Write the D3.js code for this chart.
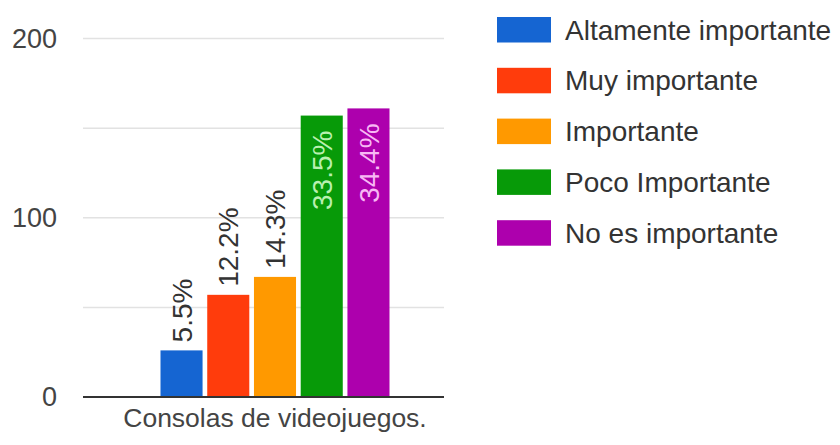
<!DOCTYPE html>
<html>
<head>
<meta charset="utf-8">
<script src="https://cdn.jsdelivr.net/npm/d3@7/dist/d3.min.js"></script>
<style>
  html, body { margin: 0; padding: 0; background: #fff; }
  svg { display: block; font-family: "Liberation Sans", Arial, sans-serif; }
</style>
</head>
<body>
<svg id="chart" width="840" height="445"></svg>
<script>
// Survey responses for one question, split by importance level
const categories = ["Consolas de videojuegos."];
const seriesNames = ["Altamente importante", "Muy importante", "Importante", "Poco Importante", "No es importante"];
const seriesValues = [26, 57, 67, 157, 161];
const percentLabels = ["5.5%", "12.2%", "14.3%", "33.5%", "34.4%"];
const seriesColors = ["#1565d2", "#ff3c0c", "#ff9900", "#079a08", "#ad00ad"];
const insideLabelColors = ["#ffffff", "#ffffff", "#ffffff", "#b9f0b0", "#f8b8f4"];
const gridValues = [0, 50, 100, 150, 200];
const tickLabels = ["0", "100", "200"];

const svg = d3.select("#chart");

const plot = { left: 83, right: 444, top: 38.5, bottom: 397 };

const y = d3.scaleLinear().domain([0, 200]).range([plot.bottom, plot.top]);

const x0 = d3.scaleBand().domain(categories).range([106, 444]).paddingInner(0).paddingOuter(0.238);
const x1 = d3.scaleBand().domain(seriesNames).range([0, x0.bandwidth()]).paddingInner(0.1);

// Gridlines
svg.append("g")
  .selectAll("line")
  .data(gridValues.filter(v => v !== 0))
  .join("line")
  .attr("x1", plot.left).attr("x2", plot.right)
  .attr("y1", d => y(d)).attr("y2", d => y(d))
  .attr("stroke", "#e2e2e2").attr("stroke-width", 1.5);

// Y axis labels
const yAxis = d3.axisLeft(y)
  .tickValues(tickLabels.map(Number))
  .tickFormat((d, i) => tickLabels[i])
  .tickSize(0).tickPadding(0);
const yg = svg.append("g").attr("transform", "translate(57,0)").call(yAxis);
yg.select(".domain").remove();
yg.selectAll("text").attr("font-size", 27).attr("fill", "#444")
  .attr("font-family", "'Liberation Sans', Arial, sans-serif");

// Bars
const group = svg.append("g")
  .selectAll("g")
  .data(categories)
  .join("g")
  .attr("transform", d => `translate(${x0(d)},0)`);

const bars = seriesNames.map((name, i) => ({ name, value: seriesValues[i], label: percentLabels[i], i }));

group.selectAll("rect")
  .data(bars)
  .join("rect")
  .attr("x", d => x1(d.name))
  .attr("width", x1.bandwidth())
  .attr("y", d => y(d.value))
  .attr("height", d => y(0) - y(d.value))
  .attr("fill", d => seriesColors[d.i]);

// Value labels: outside above short bars, inside near the top of tall bars
const insideThreshold = 100;
group.selectAll("text.val")
  .data(bars)
  .join("text")
  .attr("class", "val")
  .attr("transform", d => {
    const cx = x1(d.name) + x1.bandwidth() / 2;
    const ty = d.value > insideThreshold ? y(d.value) + 15 : y(d.value) - 8;
    return `translate(${cx},${ty}) rotate(-90)`;
  })
  .attr("text-anchor", d => d.value > insideThreshold ? "end" : "start")
  .attr("dy", "0.36em")
  .attr("font-size", 28)
  .attr("fill", d => d.value > insideThreshold ? insideLabelColors[d.i] : "#333")
  .text(d => d.label);

// Baseline
svg.append("line")
  .attr("x1", plot.left).attr("x2", plot.right)
  .attr("y1", y(0)).attr("y2", y(0))
  .attr("stroke", "#333").attr("stroke-width", 2);

// Category label
svg.append("g")
  .selectAll("text")
  .data(categories)
  .join("text")
  .attr("x", d => x0(d) + x0.bandwidth() / 2)
  .attr("y", 427)
  .attr("text-anchor", "middle")
  .attr("font-size", 26.5)
  .attr("fill", "#444")
  .text(d => d);

// Legend
const legend = svg.append("g").attr("transform", "translate(497,17)");
const rowH = 50.8;
const items = legend.selectAll("g")
  .data(seriesNames)
  .join("g")
  .attr("transform", (d, i) => `translate(0,${i * rowH})`);
items.append("rect")
  .attr("width", 54).attr("height", 25.5)
  .attr("fill", (d, i) => seriesColors[i]);
items.append("text")
  .attr("x", 68).attr("y", 12.75)
  .attr("dy", "0.35em")
  .attr("font-size", 28)
  .attr("fill", "#333")
  .text(d => d);
</script>
</body>
</html>
